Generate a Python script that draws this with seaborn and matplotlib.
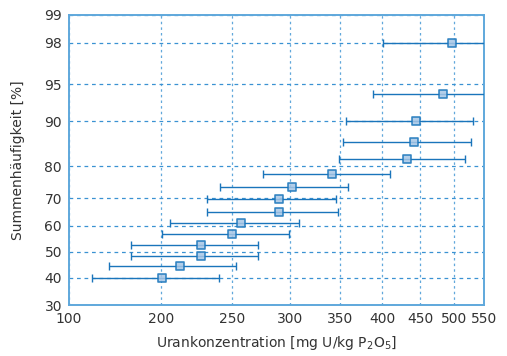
import numpy as np
import pandas as pd
import matplotlib
matplotlib.use("Agg")
import matplotlib.pyplot as plt
import seaborn as sns
from statistics import NormalDist

# ---- data ----
konz = [201, 212, 227, 227, 250, 257, 289, 289, 301, 342, 432, 441, 444, 484, 498]
konz_min = [161, 170, 182, 182, 201, 206, 231, 231, 241, 275, 349, 354, 357, 388, 401]
konz_max = [240, 253, 271, 271, 299, 308, 348, 346, 359, 409, 518, 528, 531, 620, 640]
summe = [40, 44.5, 48.5, 52.6, 56.8, 61.0, 65.1, 69.8, 73.6, 77.6, 81.8, 85.9, 90.0, 93.9, 98.0]

x_ticks = [150, 200, 250, 300, 350, 400, 450, 500, 550]
x_labels = ["100", "200", "250", "300", "350", "400", "450", "500", "550"]
y_ticks = [30, 40, 50, 60, 70, 80, 90, 95, 98, 99]

df = pd.DataFrame({"konz": konz, "lo": konz_min, "hi": konz_max, "p": summe})

# normal probability scale for the y axis
_nd = NormalDist()
_ppf = np.vectorize(_nd.inv_cdf, otypes=[float])
_cdf = np.vectorize(_nd.cdf, otypes=[float])
def _fwd(p):
    p = np.clip(np.asarray(p, dtype=float) / 100.0, 1e-9, 1 - 1e-9)
    return _ppf(p)
def _inv(z):
    return _cdf(np.asarray(z, dtype=float)) * 100.0

sns.set_style("white")
plt.rcParams['font.family'] = ['DejaVu Sans']

line_col = "#1a75bb"
grid_col = "#3a92d2"
spine_col = "#5fa8dc"
text_col = "#333333"

fig = plt.figure(figsize=(5.07, 3.56), dpi=100)
ax = fig.add_axes([0.136, 0.143, 0.819, 0.815])

ax.set_xscale("log")
ax.set_yscale("function", functions=(_fwd, _inv))

ax.errorbar(df["konz"], df["p"],
            xerr=[df["konz"] - df["lo"], df["hi"] - df["konz"]],
            fmt="none", ecolor=line_col, elinewidth=1.0, capsize=3, capthick=1.0, zorder=3)
sns.scatterplot(data=df, x="konz", y="p", marker="s", s=34,
                color="#a6c6e6", edgecolor=line_col, linewidth=1.2, alpha=0.85,
                ax=ax, zorder=4, legend=False)

ax.set_xlim(150, 550)
ax.set_ylim(30, 99)
ax.set_xticks(x_ticks)
ax.set_xticklabels(x_labels)
ax.xaxis.set_minor_locator(matplotlib.ticker.NullLocator())
ax.set_yticks(y_ticks)
ax.set_yticklabels([str(t) for t in y_ticks])
ax.yaxis.set_minor_locator(matplotlib.ticker.NullLocator())

ax.grid(True, axis="y", color=grid_col, linestyle=(0, (3, 3)), linewidth=0.9)
ax.grid(True, axis="x", color=grid_col, linestyle=(0, (2, 2.5)), linewidth=0.9, alpha=0.8)

for s in ax.spines.values():
    s.set_color(spine_col)
    s.set_linewidth(1.4)
ax.tick_params(length=0, labelsize=10, colors=text_col, pad=5)

ax.set_xlabel("Urankonzentration [mg U/kg P$_2$O$_5$]", fontsize=10, color=text_col, labelpad=6)
ax.set_ylabel("Summenhäufigkeit [%]", fontsize=10, color=text_col, labelpad=14)

fig.savefig("out.png", dpi=100)
